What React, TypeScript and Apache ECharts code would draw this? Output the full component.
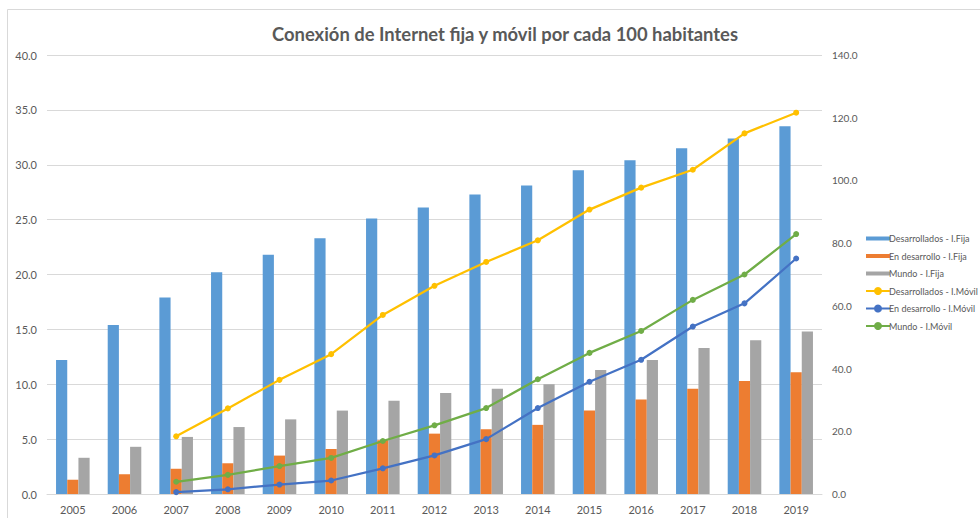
import React, { useEffect, useRef } from "react";
import * as echarts from "echarts";

const years = ["2005","2006","2007","2008","2009","2010","2011","2012","2013","2014","2015","2016","2017","2018","2019"];
const desFija = [12.2, 15.4, 17.9, 20.2, 21.8, 23.3, 25.1, 26.1, 27.3, 28.1, 29.5, 30.4, 31.5, 32.4, 33.5];
const enDesFija = [1.3, 1.8, 2.3, 2.8, 3.5, 4.1, 4.9, 5.5, 5.9, 6.3, 7.6, 8.6, 9.6, 10.3, 11.1];
const mundoFija = [3.3, 4.3, 5.2, 6.1, 6.8, 7.6, 8.5, 9.2, 9.6, 10.0, 11.3, 12.2, 13.3, 14.0, 14.8];
const desMovil = [null, null, 18.4, 27.3, 36.4, 44.6, 57.1, 66.4, 74.0, 80.9, 90.7, 97.7, 103.4, 115.0, 121.6];
const enDesMovil = [null, null, 0.6, 1.5, 3.0, 4.3, 8.2, 12.3, 17.5, 27.4, 35.8, 42.8, 53.4, 60.8, 75.1];
const mundoMovil = [null, null, 3.9, 6.1, 8.9, 11.5, 16.9, 21.9, 27.4, 36.6, 45.0, 52.0, 61.9, 70.0, 82.9];

const FONT = "Lato, 'Open Sans', sans-serif";
const TXT = "#595959";
const GRID = "#d9d9d9";

export default function App() {
  const ref = useRef<HTMLDivElement>(null);
  useEffect(() => {
    if (!ref.current) return;
    const chart = echarts.init(ref.current, null, { renderer: "svg" });
    const barSeries = (name: string, data: number[], color: string) => ({
      name, type: "bar", data, yAxisIndex: 0,
      itemStyle: { color }, barGap: "0%", barCategoryGap: "35%",
    });
    const lineSeries = (name: string, data: (number | null)[], color: string) => ({
      name, type: "line", data, yAxisIndex: 1,
      symbol: "circle", symbolSize: 6, connectNulls: false,
      lineStyle: { color, width: 2.25 }, itemStyle: { color },
    });
    chart.setOption({
      animation: false,
      backgroundColor: "#fff",
      textStyle: { fontFamily: FONT },
      graphic: [
        { type: "rect", shape: { x: 7.5, y: 9.5, width: 1200, height: 1000 }, style: { fill: "none", stroke: GRID, lineWidth: 1 }, silent: true },
      ],
      title: {
        text: "Conexión de Internet fija y móvil por cada 100 habitantes",
        left: 500, textAlign: "center", top: 20,
        textStyle: { fontFamily: FONT, fontSize: 18.4, fontWeight: "bold", color: TXT },
      },
      legend: {
        orient: "vertical", left: 860, top: 229, itemGap: 8.5, itemWidth: 24, itemHeight: 10,
        textStyle: { fontFamily: FONT, fontSize: 9, color: TXT, padding: [0, 0, 0, -6] },
        data: [
          { name: "Desarrollados - I.Fija", icon: "path://M0,3H24V7H0Z" },
          { name: "En desarrollo - I.Fija", icon: "path://M0,3H24V7H0Z" },
          { name: "Mundo - I.Fija", icon: "path://M0,3H24V7H0Z" },
          { name: "Desarrollados - I.Móvil" },
          { name: "En desarrollo - I.Móvil" },
          { name: "Mundo - I.Móvil" },
        ],
      },
      grid: { left: 47, right: 158, top: 55, bottom: 24, containLabel: false },
      xAxis: {
        type: "category", data: years,
        axisLine: { lineStyle: { color: GRID } },
        axisTick: { show: false },
        axisLabel: { color: TXT, fontSize: 11, margin: 10, fontFamily: FONT },
      },
      yAxis: [
        {
          type: "value", min: 0, max: 40, interval: 5,
          axisLabel: { color: TXT, fontSize: 11, margin: 10, fontFamily: FONT, formatter: (v: number) => v.toFixed(1) },
          splitLine: { lineStyle: { color: GRID } },
          axisLine: { show: false }, axisTick: { show: false },
        },
        {
          type: "value", min: 0, max: 140, interval: 20, position: "right",
          axisLabel: { color: TXT, fontSize: 10, margin: 10, fontFamily: FONT, formatter: (v: number) => v.toFixed(1) },
          splitLine: { show: false },
          axisLine: { show: false }, axisTick: { show: false },
        },
      ],
      series: [
        barSeries("Desarrollados - I.Fija", desFija, "#5B9BD5"),
        barSeries("En desarrollo - I.Fija", enDesFija, "#ED7D31"),
        barSeries("Mundo - I.Fija", mundoFija, "#A5A5A5"),
        lineSeries("Desarrollados - I.Móvil", desMovil, "#FFC000"),
        lineSeries("En desarrollo - I.Móvil", enDesMovil, "#4472C4"),
        lineSeries("Mundo - I.Móvil", mundoMovil, "#70AD47"),
      ],
    });
    return () => chart.dispose();
  }, []);
  return <div ref={ref} style={{ position: "fixed", left: 0, top: 0, width: 980, height: 518 }} />;
}
